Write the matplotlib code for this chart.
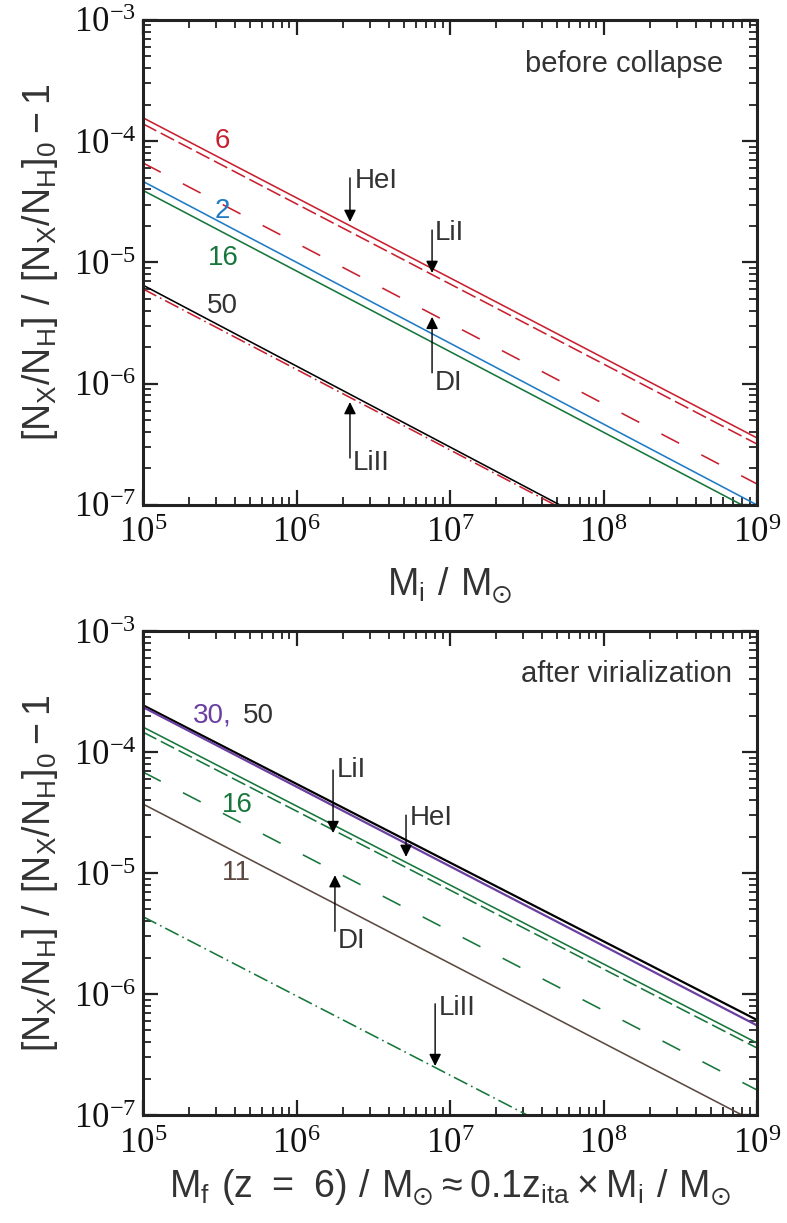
import numpy as np
import matplotlib
matplotlib.use('Agg')
import matplotlib.pyplot as plt

plt.rcParams['font.family'] = ['Liberation Serif', 'DejaVu Serif']
plt.rcParams['axes.unicode_minus'] = False
plt.rcParams['lines.scale_dashes'] = False

# values read at the two visible ends of each line (x = M, y = abundance change)
# top panel: before collapse
m_full = [1e5, 1e9]
z6_solid = [1.56e-4, 3.57e-7]
z6_dash = [1.39e-4, 3.18e-7]
z6_longdash = [6.62e-5, 1.49e-7]
z2_solid = [4.66e-5, 1.0e-7]
m_z16 = [1e5, 7.98e8]
z16_solid = [3.93e-5, 1.0e-7]
m_z50 = [1e5, 5.2e7]
z50_solid = [6.5e-6, 1.0e-7]
m_z6_dd = [1e5, 4.83e7]
z6_dashdot = [6.05e-6, 1.0e-7]

# bottom panel: after virialization
v50_solid = [2.44e-4, 6.1e-7]
v30_solid = [2.35e-4, 5.5e-7]
v16_solid = [1.61e-4, 3.94e-7]
v16_dash = [1.46e-4, 3.58e-7]
v16_longdash = [6.84e-5, 1.61e-7]
m_v11 = [1e5, 7.98e8]
v11_solid = [3.72e-5, 1.0e-7]
m_v16_dd = [1e5, 3.18e7]
v16_dashdot = [4.36e-6, 1.0e-7]

RED = '#c8202f'
BLUE = '#1f7bc4'
GREEN = '#17763b'
PURPLE = '#6b3fa0'
BROWN = '#5c4a42'
TXT = '#333333'

SHORT = (0, (10.8, 3.6))
LONG = (0, (14.4, 18))
DASHDOT = (0, (10.8, 3.0, 1.2, 3.0))
LW = 1.15

SANS = ['Liberation Sans', 'DejaVu Sans']

fig = plt.figure(figsize=(7.87, 12.23), dpi=100)
ax1 = fig.add_axes([0.1817, 0.5871, 0.7802, 0.3966])
ax2 = fig.add_axes([0.1817, 0.0883, 0.7802, 0.3957])


def style(ax):
    ax.set_xscale('log')
    ax.set_yscale('log')
    ax.set_xlim(1e5, 1e9)
    ax.set_ylim(1e-7, 1e-3)
    for s in ax.spines.values():
        s.set_linewidth(2.2)
        s.set_color('#222222')
    ax.tick_params(which='both', direction='in', top=True, right=True,
                   colors='#222222', labelcolor='#111111', labelsize=25)
    ax.tick_params(which='major', length=11, width=1.6)
    ax.tick_params(which='minor', length=5.5, width=1.3)
    ax.tick_params(axis='y', pad=5)
    ax.tick_params(axis='x', pad=9)
    ax.set_ylabel(r'$\mathregular{[N_X/N_H]\ /\ [N_X/N_H]_0 - 1}$',
                  fontfamily=SANS, fontsize=27, color=TXT)
    ax.yaxis.set_label_coords(-0.135, 0.5)


def arrow(ax, x, y_tail, y_tip):
    ax.annotate('', xy=(x, y_tip), xytext=(x, y_tail),
                arrowprops=dict(arrowstyle='-|>', color='k', lw=1.0,
                                mutation_scale=18, shrinkA=0, shrinkB=0))


def label(ax, x, y, s, color=TXT):
    ax.text(x, y, s, fontfamily=SANS, fontsize=20, color=color,
            ha='left', va='baseline')


# ---- top panel
style(ax1)
ax1.plot(m_full, z6_solid, color=RED, lw=LW)
ax1.plot(m_full, z6_dash, color=RED, lw=LW, ls=SHORT)
ax1.plot(m_full, z6_longdash, color=RED, lw=LW, ls=LONG)
ax1.plot(m_full, z2_solid, color=BLUE, lw=LW)
ax1.plot(m_z16, z16_solid, color=GREEN, lw=LW)
ax1.plot(m_z50, z50_solid, color='k', lw=LW)
ax1.plot(m_z6_dd, z6_dashdot, color=RED, lw=LW, ls=DASHDOT)

label(ax1, 2.95e5, 8.8e-5, '6', RED)
label(ax1, 2.95e5, 2.33e-5, '2', BLUE)
label(ax1, 2.65e5, 9.5e-6, '16', GREEN)
label(ax1, 2.61e5, 3.84e-6, '50')

arrow(ax1, 2.23e6, 4.98e-5, 2.16e-5)
label(ax1, 2.40e6, 4.1e-5, 'HeI')
arrow(ax1, 7.64e6, 1.85e-5, 8.2e-6)
label(ax1, 7.98e6, 1.52e-5, 'LiI')
arrow(ax1, 7.64e6, 1.23e-6, 3.56e-6)
label(ax1, 7.98e6, 8.9e-7, 'DI')
arrow(ax1, 2.23e6, 2.44e-7, 7.06e-7)
label(ax1, 2.33e6, 1.95e-7, 'LiII')

ax1.text(0.945, 0.893, 'before collapse', transform=ax1.transAxes,
         fontfamily=SANS, fontsize=21, color=TXT, ha='right', va='baseline')
ax1.set_xlabel(r'$\mathregular{M_i\ /\ M_{\odot}}$', fontfamily=SANS,
               fontsize=27, color=TXT)
ax1.xaxis.set_label_coords(0.5, -0.125)

# ---- bottom panel
style(ax2)
ax2.plot(m_full, v50_solid, color='k', lw=1.6)
ax2.plot(m_full, v30_solid, color=PURPLE, lw=1.6)
ax2.plot(m_full, v16_solid, color=GREEN, lw=LW)
ax2.plot(m_full, v16_dash, color=GREEN, lw=LW, ls=SHORT)
ax2.plot(m_full, v16_longdash, color=GREEN, lw=LW, ls=LONG)
ax2.plot(m_v11, v11_solid, color=BROWN, lw=LW)
ax2.plot(m_v16_dd, v16_dashdot, color=GREEN, lw=LW, ls=DASHDOT)

label(ax2, 2.12e5, 1.74e-4, '30,', PURPLE)
label(ax2, 4.48e5, 1.74e-4, '50')
label(ax2, 3.27e5, 3.19e-5, '16', GREEN)
label(ax2, 3.27e5, 8.75e-6, '11', BROWN)

arrow(ax2, 1.73e6, 7.1e-5, 2.14e-5)
label(ax2, 1.84e6, 6.2e-5, 'LiI')
arrow(ax2, 5.17e6, 3.01e-5, 1.36e-5)
label(ax2, 5.48e6, 2.49e-5, 'HeI')
arrow(ax2, 1.78e6, 3.3e-6, 9.6e-6)
label(ax2, 1.86e6, 2.4e-6, 'DI')
arrow(ax2, 8.0e6, 8.3e-7, 2.54e-7)
label(ax2, 8.4e6, 6.7e-7, 'LiII')

ax2.text(0.959, 0.895, 'after virialization', transform=ax2.transAxes,
         fontfamily=SANS, fontsize=21, color=TXT, ha='right', va='baseline')
ax2.set_xlabel(r'$\mathregular{M_f\ (z\ =\ 6)\ /\ M_{\odot} \approx 0.1z_{ita} \times M_i\ /\ M_{\odot}}$',
               fontfamily=SANS, fontsize=27, color=TXT)
ax2.xaxis.set_label_coords(0.5, -0.11)

fig.savefig('out.png', dpi=100)
